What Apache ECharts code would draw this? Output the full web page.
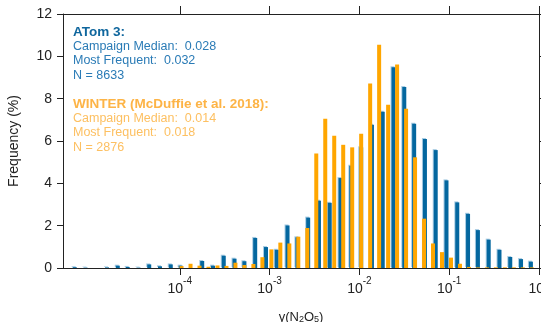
<!DOCTYPE html>
<html>
<head>
<meta charset="utf-8">
<script src="https://cdn.jsdelivr.net/npm/echarts@6/dist/echarts.min.js"></script>
<style>
  html, body { margin: 0; padding: 0; background: #fff; }
  #chart { width: 541px; height: 322px; }
</style>
</head>
<body>
<div id="chart"></div>
<script>
// bin centres are log10(gamma)
var blueCenters = [-5.17, -5.05, -4.93, -4.81, -4.69, -4.58, -4.46, -4.34, -4.22, -4.10,
  -3.99, -3.87, -3.75, -3.63, -3.51, -3.39, -3.28, -3.16, -3.04, -2.92,
  -2.80, -2.69, -2.57, -2.45, -2.33, -2.21, -2.09, -1.98, -1.86, -1.74,
  -1.62, -1.50, -1.39, -1.27, -1.15, -1.03, -0.91, -0.79, -0.68, -0.56,
  -0.44, -0.32, -0.20, -0.09];
var blueValues = [0.04, 0.02, 0, 0.03, 0.11, 0.05, 0.02, 0.17, 0.08, 0.17,
  0.11, 0, 0.33, 0.11, 0.58, 0.44, 0.32, 1.42, 0.99, 0.86,
  2.01, 1.45, 2.38, 3.18, 3.08, 4.25, 4.83, 5.70, 6.77, 7.38,
  9.49, 8.55, 6.82, 6.09, 5.57, 4.14, 3.10, 2.56, 1.79, 1.34,
  0.86, 0.52, 0.42, 0.30];

var orangeCenters = [-3.98, -3.88, -3.78, -3.68, -3.58, -3.48, -3.38, -3.28, -3.18, -3.08,
  -2.98, -2.88, -2.78, -2.68, -2.58, -2.48, -2.38, -2.28, -2.18, -2.08,
  -1.98, -1.88, -1.78, -1.68, -1.58, -1.48, -1.38, -1.28, -1.18, -1.08,
  -0.98, -0.88, -0.78, -0.68, -0.58, -0.48, -0.38, -0.28, -0.18, -0.08];
var orangeValues = [0.09, 0.2, 0.11, 0.06, 0.12, 0.1, 0.25, 0.14, 0.19, 0.51,
  0.88, 1.2, 1.16, 1.48, 1.89, 5.41, 7.05, 6.25, 5.82, 5.70,
  6.34, 8.72, 10.55, 7.71, 9.62, 7.52, 5.23, 2.33, 1.16, 0.75,
  0.49, 0.20, 0.05, 0.03, 0.03, 0.03, 0.03, 0.03, 0.03, 0.03];

var decadeTicks = [-4, -3, -2, -1, 0];

var atomLines = ["ATom 3:", "Campaign Median:  0.028", "Most Frequent:  0.032", "N = 8633"];
var winterLines = ["WINTER (McDuffie et al. 2018):", "Campaign Median:  0.014", "Most Frequent:  0.018", "N = 2876"];

var blueData = [];
for (var i = 0; i < blueCenters.length; i++) {
  blueData.push([blueCenters[i], blueValues[i]]);
}
var orangeData = [];
for (var j = 0; j < orangeCenters.length; j++) {
  orangeData.push([orangeCenters[j], orangeValues[j]]);
}

var font = "'Liberation Sans', Arial, sans-serif";
var axisColor = "#222";

function textBlock(lines, top, boldColor, color) {
  var out = [];
  for (var k = 0; k < lines.length; k++) {
    out.push({
      type: "text",
      x: 73,
      y: top + k * 14.5,
      style: {
        text: lines[k],
        fill: k === 0 ? boldColor : color,
        font: (k === 0 ? "bold 13.5px " : "12.5px ") + font,
        verticalAlign: "middle",
      },
    });
  }
  return out;
}

const myChart = echarts.init(document.getElementById("chart"));
var option = {
  animation: false,
  grid: {
    left: 63,
    right: 2,
    top: 14,
    bottom: 54,
    containLabel: false,
    outerBoundsMode: "none",
  },
  xAxis: [
    {
      type: "value",
      min: -5.3,
      max: 0,
      position: "bottom",
      axisLine: { show: true, onZero: false, lineStyle: { color: axisColor, width: 1 } },
      axisTick: { show: true, customValues: decadeTicks, length: 7, lineStyle: { color: axisColor } },
      splitLine: { show: false },
      axisLabel: {
        customValues: decadeTicks,
        margin: 8,
        hideOverlap: false,
        formatter: function (v) {
          return "{b|10}{s|" + v + "}";
        },
        rich: {
          b: { fontSize: 14, fontFamily: font, color: axisColor, lineHeight: 20, verticalAlign: "bottom" },
          s: { fontSize: 10, fontFamily: font, color: axisColor, lineHeight: 10, verticalAlign: "top" },
        },
      },
      name: "γ(N{sub|2}O{sub|5})",
      nameLocation: "middle",
      nameGap: 43,
      nameTextStyle: {
        fontSize: 13,
        fontFamily: font,
        color: axisColor,
        rich: {
          sub: { fontSize: 9, fontFamily: font, color: axisColor, verticalAlign: "bottom", lineHeight: 6 },
        },
      },
    },
    {
      type: "value",
      min: -5.3,
      max: 0,
      position: "top",
      axisLine: { show: true, onZero: false, lineStyle: { color: axisColor, width: 1 } },
      axisTick: { show: true, customValues: decadeTicks, length: 8, lineStyle: { color: axisColor } },
      axisLabel: { show: false },
      splitLine: { show: false },
    },
  ],
  yAxis: [
    {
      type: "value",
      min: 0,
      max: 12,
      interval: 2,
      position: "left",
      axisLine: { show: true, onZero: false, lineStyle: { color: axisColor, width: 1 } },
      axisTick: { show: true, length: 6, lineStyle: { color: axisColor } },
      splitLine: { show: false },
      axisLabel: {
        margin: 11,
        fontSize: 14,
        fontFamily: font,
        color: axisColor,
      },
      name: "Frequency (%)",
      nameLocation: "middle",
      nameGap: 42,
      nameTextStyle: { fontSize: 14, fontFamily: font, color: axisColor },
    },
    {
      type: "value",
      min: 0,
      max: 12,
      interval: 2,
      position: "right",
      axisLine: { show: true, onZero: false, lineStyle: { color: axisColor, width: 1 } },
      axisTick: { show: true, length: 5, lineStyle: { color: axisColor } },
      axisLabel: { show: false },
      splitLine: { show: false },
    },
  ],
  series: [
    {
      name: "ATom 3",
      type: "bar",
      xAxisIndex: 0,
      yAxisIndex: 0,
      data: blueData,
      barWidth: 4,
      barGap: "-100%",
      itemStyle: {
        color: "#04679f",
        shadowColor: "#a8cce3",
        shadowOffsetX: -1,
        shadowOffsetY: -1,
        shadowBlur: 0,
      },
    },
    {
      name: "WINTER",
      type: "bar",
      xAxisIndex: 0,
      yAxisIndex: 0,
      data: orangeData,
      barWidth: 4,
      barGap: "-100%",
      itemStyle: { color: "#ffa600" },
    },
  ],
  graphic: textBlock(atomLines, 32, "#0f669d", "#2a7bb6").concat(
    textBlock(winterLines, 104, "#fdb446", "#fdc062")
  ),
};
myChart.setOption(option);
</script>
</body>
</html>
